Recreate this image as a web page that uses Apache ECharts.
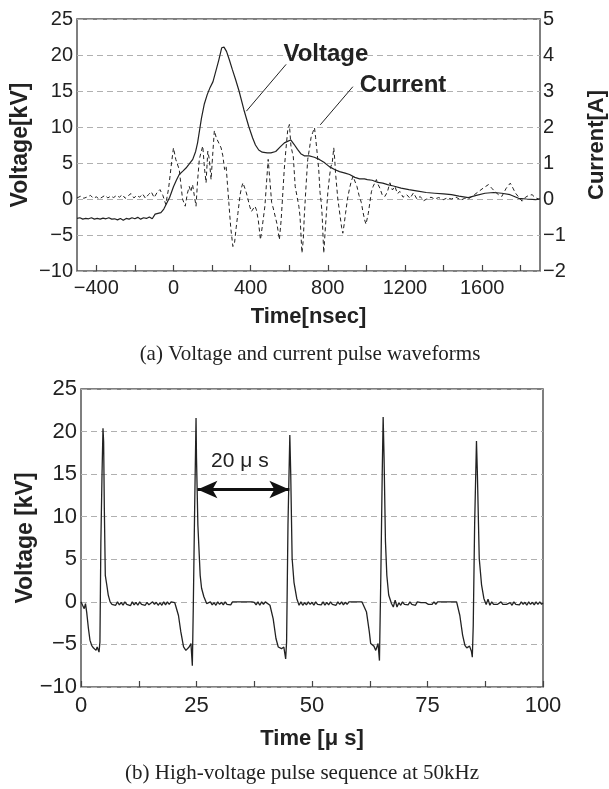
<!DOCTYPE html>
<html>
<head>
<meta charset="utf-8">
<script src="https://cdn.jsdelivr.net/npm/echarts@6/dist/echarts.min.js"></script>
<style>html,body{margin:0;padding:0;background:#fff;}#c{width:609px;height:789px;}</style>
</head>
<body>
<div id="c"></div>
<script>
// ---- (a) voltage waveform [ns, kV]
const topTime = [-500,-485,-470,-455,-440,-425,-410,-395,-380,-365,-350,-335,-320,-305,-290,-275,-260,-245,-230,-215,-200,-185,-170,-155,-140,-125,-110,-95,-80,-65,-50,-35,-20,0,15,30,50,65,80,100,115,125,135,145,160,175,190,205,220,235,250,262,275,290,305,322,340,365,390,410,425,442,460,486,505,530,556,575,591,608,625,643,660,678,704,730,756,780,808,835,861,890,913,940,965,990,1005,1030,1060,1085,1110,1140,1180,1220,1267,1310,1354,1400,1441,1480,1528,1570,1615,1660,1702,1745,1789,1830,1877,1900];
const topVoltage = [-2.7,-2.6,-2.8,-2.7,-2.75,-2.6,-2.8,-2.7,-2.8,-2.65,-2.75,-2.6,-2.8,-2.75,-2.9,-2.7,-2.95,-2.7,-2.8,-2.6,-2.75,-2.55,-2.8,-2.6,-2.7,-2.5,-2.75,-2.1,-2.0,-1.9,-1.4,-0.6,0.2,1.7,2.6,3.4,3.9,4.3,4.8,5.5,6.6,7.8,9.5,11.2,13.2,14.5,15.5,16.3,17.8,19.3,21.0,21.1,20.5,19.3,18.0,16.6,15.0,12.4,10.1,8.5,7.5,6.8,6.5,6.4,6.4,6.6,7.3,7.8,8.0,8.2,7.6,6.9,6.3,6.0,6.0,5.8,5.5,5.1,4.5,4.1,3.8,3.6,3.4,3.0,2.8,2.8,2.7,2.6,2.3,2.2,2.0,1.8,1.5,1.3,1.1,0.9,0.8,0.7,0.6,0.4,0.2,0.5,0.8,0.9,0.8,0.6,0.1,0.0,-0.1,0.0];
// ---- (a) current waveform [ns, A]
const currentTime = [-500,-480,-465,-450,-430,-415,-400,-385,-370,-355,-340,-325,-310,-295,-280,-265,-250,-235,-220,-205,-190,-175,-160,-145,-130,-115,-100,-85,-70,-55,-40,-25,-10,0,12,30,47,61,72,82,90,99,108,117,125,134,143,152,160,169,178,186,195,203,212,222,230,240,247,256,265,273,280,287,297,308,317,325,334,345,352,360,370,378,386,395,404,413,422,430,440,451,462,474,483,491,500,509,517,526,537,549,558,565,574,583,592,601,609,616,621,631,643,650,656,666,673,678,684,690,696,705,713,722,731,737,743,753,760,766,771,779,788,800,809,816,823,831,836,840,852,864,872,878,885,892,902,913,922,931,940,951,962,974,982,991,998,1004,1010,1018,1026,1035,1044,1052,1061,1070,1083,1096,1109,1122,1135,1148,1161,1174,1190,1209,1226,1244,1262,1279,1296,1313,1335,1354,1375,1398,1420,1441,1465,1490,1510,1528,1555,1580,1605,1633,1650,1667,1685,1702,1725,1746,1760,1772,1790,1807,1825,1842,1859,1877,1894,1900];
const currentAmp = [0.03,0.08,0.02,0.05,0.1,0.02,0.06,0.0,0.05,0.1,0.03,0.08,0.04,0.1,0.05,0.12,0.02,0.09,0.15,0.03,0.1,0.05,0.14,0.02,0.12,0.2,0.04,0.18,0.26,0.1,-0.15,0.3,1.0,1.42,1.1,0.82,0.0,-0.2,0.15,0.35,0.2,0.4,0.1,-0.2,0.5,1.1,1.3,1.47,0.9,0.45,1.33,1.1,0.54,1.2,1.9,1.7,1.66,1.5,1.42,1.2,0.82,0.91,0.4,-0.1,-0.8,-1.32,-1.2,-0.8,-0.4,0.1,0.3,0.45,0.3,0.17,0.0,-0.2,-0.35,-0.4,-0.2,-0.3,-0.6,-1.13,-0.7,-0.2,0.5,1.1,0.5,-0.1,-0.25,-0.3,-0.7,-1.13,-0.6,0.0,0.8,1.38,1.9,2.07,1.47,1.3,1.19,0.35,0.0,-0.2,-0.48,-1.5,-1.13,-0.5,0.07,0.6,1.1,1.4,1.7,1.85,1.98,1.7,1.38,0.82,0.17,-0.1,-0.48,-1.5,-0.76,0.17,0.63,0.9,1.0,1.42,1.1,0.73,0.0,-0.48,-0.8,-0.95,-0.7,-0.4,0.0,0.3,0.5,0.63,0.5,0.35,0.1,-0.1,-0.35,-0.58,-0.7,-0.67,-0.4,-0.1,0.2,0.35,0.45,0.54,0.4,0.3,0.1,0.07,0.2,0.45,0.25,0.35,0.15,0.21,0.05,0.12,0.02,0.17,0.0,0.07,-0.05,0.0,0.05,0.0,0.04,-0.02,0.03,0.0,0.05,-0.03,0.02,0.0,0.1,0.2,0.3,0.4,0.3,0.2,0.12,0.07,0.3,0.44,0.3,0.17,0.05,-0.06,0.05,0.1,0.12,0.03,0.0,0.0];
// ---- (b) pulse sequence [us, kV]
const pulseTime = [0,0.34,0.7,0.97,1.23,1.6,1.94,2.3,2.67,3.0,3.25,3.5,3.7,3.9,4.1,4.3,4.55,4.76,4.9,5.05,5.26,5.55,5.9,6.3,
6.7,7.1,7.5,7.9,8.3,8.7,9.1,9.5,9.9,10.3,10.7,11.1,11.5,11.9,12.3,12.7,13.1,13.5,13.9,14.3,14.7,15.1,15.5,15.9,16.3,16.7,17.1,17.5,17.9,18.3,18.7,19.1,19.5,19.9,20.3,20.7,
21.1,21.6,22.2,22.7,23.1,23.4,23.8,24.1,24.3,24.6,24.9,25.0,25.3,25.8,26.1,26.6,27.2,
27.6,28.0,28.4,28.8,29.2,29.6,30.0,30.4,30.8,31.2,31.6,32.0,32.4,32.8,33.2,34.0,35.0,36.0,37.0,37.5,37.9,38.3,38.7,39.1,39.5,39.9,40.2,
40.9,41.6,42.2,42.7,43.1,43.4,43.9,44.3,44.5,44.8,45.2,45.4,45.7,46.1,46.7,47.2,
47.6,48.0,48.4,48.8,49.2,49.6,50.0,50.4,50.8,51.2,51.6,52.0,52.4,52.8,53.2,53.6,54.0,54.4,54.8,55.2,55.6,56.0,56.4,56.8,57.2,57.6,58.0,58.4,59.0,59.6,60.2,60.8,
61.1,61.8,62.4,62.7,63.1,63.4,63.8,64.3,64.6,64.9,65.2,65.4,65.6,65.9,66.2,66.6,67.2,67.6,
68.0,68.4,68.8,69.2,69.6,70.0,70.4,70.8,71.2,71.6,72.0,72.4,72.8,73.2,73.6,74.0,74.6,75.2,75.6,76.0,76.4,76.8,77.2,77.6,78.2,78.8,79.4,80.0,80.6,
81.3,82.0,82.6,83.1,83.5,83.8,84.1,84.3,84.5,84.7,84.9,85.2,85.6,85.8,86.2,86.7,87.2,87.7,
88.1,88.5,88.9,89.3,89.7,90.1,90.5,90.9,91.3,91.7,92.1,92.5,92.9,93.3,93.7,94.1,94.5,94.9,95.3,95.7,96.1,96.5,96.9,97.3,97.7,98.1,98.5,98.9,99.3,99.7,100];
const pulseVoltage = [0.0,-0.4,-0.8,-0.2,-1.2,-3.1,-4.5,-5.1,-5.4,-5.6,-5.7,-5.3,-5.6,-5.9,-4.7,7,15,20.4,18.8,11,3.1,2.1,0.8,0.0,
-0.3,-0.1,-0.4,0.0,-0.35,-0.05,-0.4,0.0,-0.3,-0.1,-0.45,0.0,-0.35,-0.05,-0.4,0.0,-0.3,-0.1,-0.4,-0.05,-0.35,-0.35,0.0,-0.3,-0.05,-0.4,-0.1,-0.4,0.0,-0.35,0.0,-0.3,0.0,0.0,-0.1,-0.1,
-1.6,-3.5,-5.3,-5.7,-5.5,-5.3,-4.9,-7.5,-0.8,11,21.6,16.9,9,3.1,1.6,0.6,-0.2,
-0.4,0.0,-0.35,-0.1,-0.4,0.0,-0.3,-0.05,-0.35,0.0,-0.3,-0.1,-0.35,0.0,0.0,0.0,0.0,0.0,0.0,-0.05,-0.35,0.0,-0.4,0.0,-0.3,0.0,0.0,
-0.4,-2.0,-4.3,-5.3,-5.5,-5.5,-5.3,-6.7,-4.7,9,19.6,14.9,5.1,2.3,0.4,-0.4,
0.0,-0.4,-0.1,-0.35,0.0,-0.3,-0.05,-0.4,0.0,-0.3,-0.1,-0.35,0.0,-0.4,-0.05,-0.35,0.0,-0.3,-0.1,-0.4,0.0,-0.3,0.0,-0.35,-0.05,-0.3,0.0,0.0,0.0,0.0,0.0,0.0,
0.0,-1.2,-3.5,-4.9,-5.1,-5.2,-5.7,-4.9,-6.9,3.1,15,21.7,16.9,7.1,3.1,0.8,-0.2,-0.6,
0.2,-0.6,-0.1,-0.4,0.0,-0.3,-0.1,-0.35,0.0,-0.3,-0.1,-0.4,0.0,-0.1,-0.1,-0.05,-0.1,-0.3,-0.3,-0.3,0.0,-0.3,0.0,0.0,0.0,0.0,0.0,0.0,0.0,
0.0,-1.6,-3.9,-5.1,-5.4,-5.5,-5.2,-5.1,-5.8,-6.5,-2.8,9,18.9,15,5.1,2,0.4,-0.3,
0.3,-0.4,0.0,-0.3,-0.1,-0.3,-0.3,0.0,-0.3,-0.3,-0.3,-0.3,-0.1,-0.4,0.0,-0.3,-0.1,-0.35,0.0,-0.3,-0.05,-0.4,0.0,-0.3,-0.05,-0.35,0.0,-0.3,0.0,-0.3,-0.1];
// ---- tick / label values
const topTickValues = [-400,-200,0,200,400,600,800,1000,1200,1400,1600,1800];
const topLabelValues = [-400,0,400,800,1200,1600];
const botTickValues = [0,12.5,25,37.5,50,62.5,75,87.5,100];
const botLabelValues = [0,25,50,75,100];

const zip = (a, b) => a.map((v, i) => [v, b[i]]);
const minus = v => String(v).replace('-', '\u2212');
const FONT = '"Liberation Sans", Arial, sans-serif';
const INK = '#222';
const gridLine = {show: true, lineStyle: {color: '#b0b0b0', type: [6, 4], width: 1}};

const chart = echarts.init(document.getElementById('c'), null, {renderer: 'canvas'});
chart.setOption({
  animation: false,
  backgroundColor: '#fff',
  textStyle: {fontFamily: FONT},
  grid: [
    {left: 77, top: 19, width: 463, height: 252, show: true, borderColor: '#555', borderWidth: 1.5, backgroundColor: 'transparent', containLabel: false, outerBoundsMode: 'none'},
    {left: 81, top: 389, width: 462, height: 298, show: true, borderColor: '#555', borderWidth: 1.5, backgroundColor: 'transparent', containLabel: false, outerBoundsMode: 'none'}
  ],
  xAxis: [
    {type: 'value', gridIndex: 0, min: -500, max: 1900,
     name: 'Time[nsec]', nameLocation: 'middle', nameGap: 35,
     nameTextStyle: {fontSize: 22, fontWeight: 'bold', color: INK, fontFamily: FONT},
     axisLine: {show: false, onZero: false},
     axisTick: {show: true, inside: true, length: 6, customValues: topTickValues, lineStyle: {color: '#444', width: 1.2}},
     axisLabel: {customValues: topLabelValues, fontSize: 20, color: INK, margin: 7, formatter: minus},
     splitLine: {show: false}},
    {type: 'value', gridIndex: 1, min: 0, max: 100,
     name: 'Time [\u03bc s]', nameLocation: 'middle', nameGap: 41,
     nameTextStyle: {fontSize: 22, fontWeight: 'bold', color: INK, fontFamily: FONT},
     axisLine: {show: false, onZero: false},
     axisTick: {show: true, inside: true, length: 6, customValues: botTickValues, lineStyle: {color: '#444', width: 1.2}},
     axisLabel: {customValues: botLabelValues, fontSize: 22, color: INK, margin: 8, formatter: minus},
     splitLine: {show: false}}
  ],
  yAxis: [
    {type: 'value', gridIndex: 0, min: -10, max: 25, interval: 5,
     name: 'Voltage[kV]', nameLocation: 'middle', nameGap: 45, nameMoveOverlap: false,
     nameTextStyle: {fontSize: 23, fontWeight: 'bold', color: INK, fontFamily: FONT},
     axisLine: {show: false, onZero: false}, axisTick: {show: false},
     axisLabel: {fontSize: 20, color: INK, margin: 4, formatter: minus},
     splitLine: gridLine},
    {type: 'value', gridIndex: 0, min: -2, max: 5, interval: 1, position: 'right',
     name: 'Current[A]', nameLocation: 'middle', nameGap: 46, nameRotate: 90, nameMoveOverlap: false,
     nameTextStyle: {fontSize: 22, fontWeight: 'bold', color: INK, fontFamily: FONT},
     axisLine: {show: false, onZero: false}, axisTick: {show: false},
     axisLabel: {fontSize: 20, color: INK, margin: 3, formatter: minus},
     splitLine: {show: false}},
    {type: 'value', gridIndex: 1, min: -10, max: 25, interval: 5,
     name: 'Voltage [kV]', nameLocation: 'middle', nameGap: 44, nameMoveOverlap: false,
     nameTextStyle: {fontSize: 23, fontWeight: 'bold', color: INK, fontFamily: FONT},
     axisLine: {show: false, onZero: false}, axisTick: {show: false},
     axisLabel: {fontSize: 22, color: INK, margin: 4, formatter: minus},
     splitLine: gridLine}
  ],
  series: [
    {name: 'Voltage', type: 'line', xAxisIndex: 0, yAxisIndex: 0, data: zip(topTime, topVoltage),
     showSymbol: false, symbol: 'none', lineStyle: {color: INK, width: 1.2}, z: 3,
     markLine: {silent: true, symbol: ['none', 'none'], label: {show: false},
       lineStyle: {color: INK, width: 1, type: 'solid'},
       data: [
         [{coord: [378, 12.2]}, {coord: [584, 18.7]}],
         [{coord: [761, 10.3]}, {coord: [930, 15.6]}]
       ]},
     markPoint: {silent: true, symbol: 'circle', symbolSize: 0,
       label: {show: true, position: 'inside', fontSize: 24, fontWeight: 'bold', color: INK, fontFamily: FONT},
       data: [
         {coord: [790, 20.1], label: {formatter: 'Voltage'}},
         {coord: [1190, 15.8], label: {formatter: 'Current'}}
       ]}},
    {name: 'Current', type: 'line', xAxisIndex: 0, yAxisIndex: 1, data: zip(currentTime, currentAmp),
     showSymbol: false, symbol: 'none', lineStyle: {color: INK, width: 1, type: [4, 3]}, z: 2},
    {name: 'Pulse', type: 'line', xAxisIndex: 1, yAxisIndex: 2, data: zip(pulseTime, pulseVoltage),
     showSymbol: false, symbol: 'none', lineStyle: {color: INK, width: 1.3},
     markLine: {silent: true, symbol: ['arrow', 'arrow'], symbolSize: [13, 20], label: {show: false},
       lineStyle: {color: '#111', width: 3, type: 'solid'},
       data: [[{coord: [25.2, 13.2]}, {coord: [45.1, 13.2]}]]},
     markPoint: {silent: true, symbol: 'circle', symbolSize: 0,
       label: {show: true, position: 'inside', fontSize: 21, color: INK, fontFamily: FONT, formatter: '20 \u03bc s'},
       data: [{coord: [34.4, 16.5]}]}}
  ],
  graphic: [
    {type: 'text', x: 310, y: 354, style: {text: '(a) Voltage and current pulse waveforms', font: '21px "Liberation Serif", "Times New Roman", serif', fill: INK, textAlign: 'center', textVerticalAlign: 'middle'}},
    {type: 'text', x: 302, y: 773, style: {text: '(b) High-voltage pulse sequence at 50kHz', font: '21px "Liberation Serif", "Times New Roman", serif', fill: INK, textAlign: 'center', textVerticalAlign: 'middle'}}
  ]
});
</script>
</body>
</html>
